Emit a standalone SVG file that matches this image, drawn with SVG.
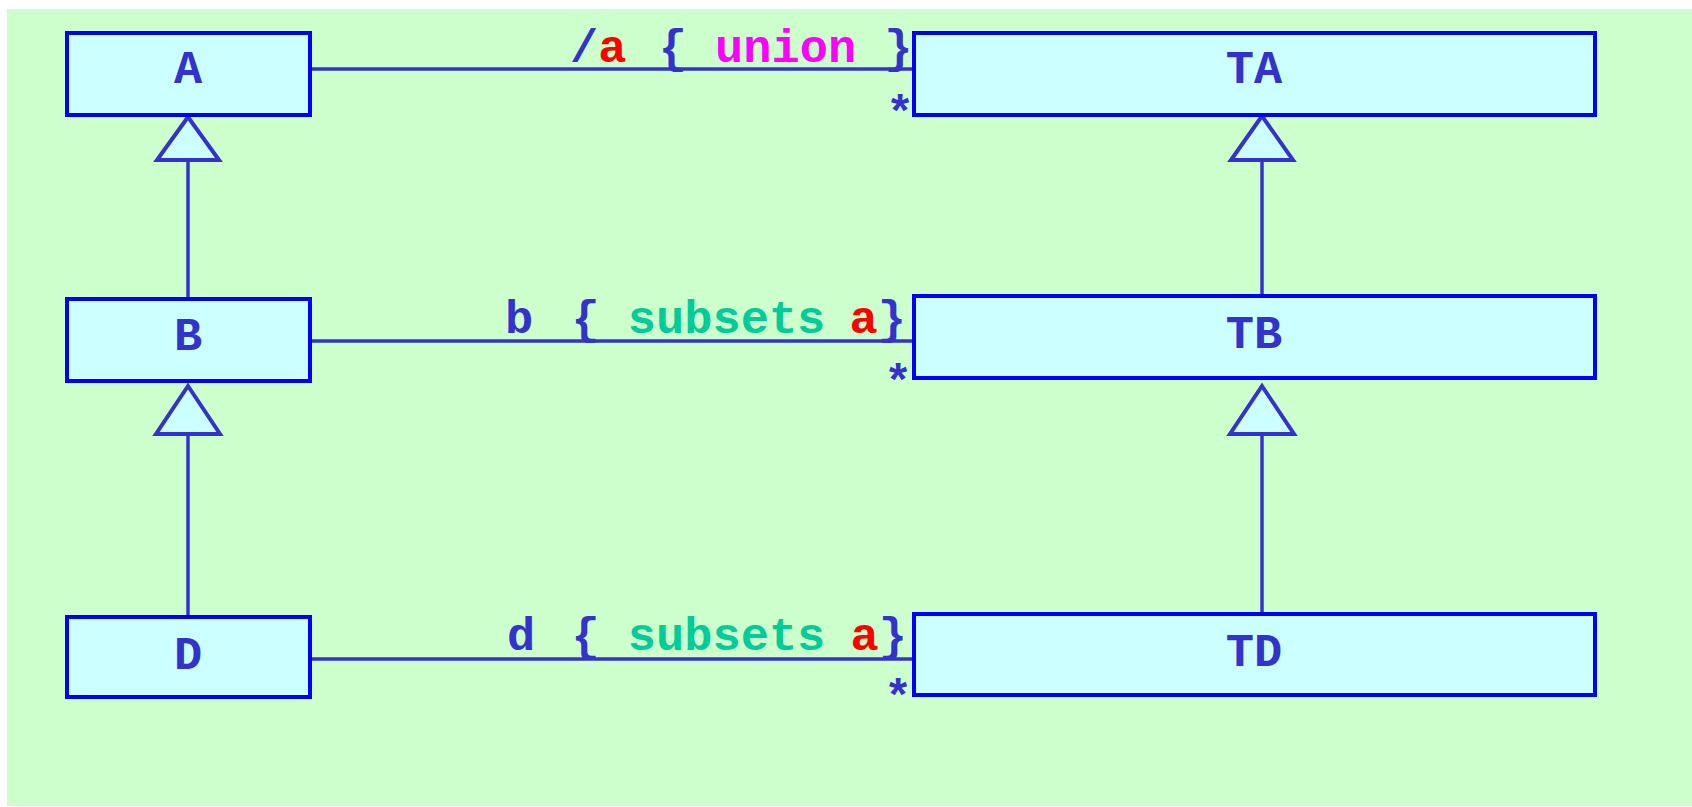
<svg xmlns="http://www.w3.org/2000/svg" width="1692" height="807" viewBox="0 0 1692 807">
<style>
.box{fill:#ccffff;stroke:#0000ff;stroke-width:4}
.lbl{font-family:"Liberation Mono",monospace;font-weight:bold;font-size:47px;fill:#3333cc}
.name{text-anchor:middle}
.ln{stroke:#3333cc;stroke-width:3.5;fill:none}
.tri{fill:#ccffff;stroke:#3333cc;stroke-width:4;stroke-linejoin:miter}
.red{fill:#ff0000}
.mag{fill:#ff00ff}
.grn{fill:#00cc99}
</style>
<rect x="7" y="9" width="1685" height="797" fill="#ccffcc"/>
<g id="connectors">
<line class="ln" x1="312" y1="69" x2="912" y2="69"/>
<line class="ln" x1="312" y1="341" x2="912" y2="341"/>
<line class="ln" x1="312" y1="659" x2="912" y2="659"/>
<line class="ln" x1="188" y1="160" x2="188" y2="297"/>
<line class="ln" x1="188" y1="434" x2="188" y2="615"/>
<line class="ln" x1="1262" y1="161" x2="1262" y2="294"/>
<line class="ln" x1="1262" y1="434" x2="1262" y2="612"/>
<polygon class="tri" points="188,117 157,160 219,160"/>
<polygon class="tri" points="188,386 156,434 220,434"/>
<polygon class="tri" points="1262,116 1231,160 1293,160"/>
<polygon class="tri" points="1262,386 1230,434 1294,434"/>
<text class="lbl" x="570" y="62">/<tspan class="red">a</tspan> <tspan dx="4">{</tspan> <tspan class="mag">union</tspan> }</text>
<text class="lbl" x="505" y="333">b <tspan dx="10">{</tspan> <tspan class="grn">subsets</tspan> <tspan class="red" dx="-4">a</tspan>}</text>
<text class="lbl" x="507" y="650">d <tspan dx="8">{</tspan> <tspan class="grn">subsets</tspan> <tspan class="red" dx="-3">a</tspan>}</text>
<text class="lbl" x="886" y="128">*</text>
<text class="lbl" x="884" y="397">*</text>
<text class="lbl" x="884" y="712">*</text>
</g>
<g id="A"><rect class="box" x="67" y="33" width="243" height="82"/><text class="lbl name" x="188" y="83">A</text></g>
<g id="B"><rect class="box" x="67" y="299" width="243" height="82"/><text class="lbl name" x="188" y="350">B</text></g>
<g id="D"><rect class="box" x="67" y="617" width="243" height="80"/><text class="lbl name" x="188" y="669">D</text></g>
<g id="TA"><rect class="box" x="914" y="33" width="681" height="82"/><text class="lbl name" x="1254" y="83">TA</text></g>
<g id="TB"><rect class="box" x="914" y="296" width="681" height="82"/><text class="lbl name" x="1254" y="348">TB</text></g>
<g id="TD"><rect class="box" x="914" y="614" width="681" height="81"/><text class="lbl name" x="1254" y="666">TD</text></g>
</svg>
